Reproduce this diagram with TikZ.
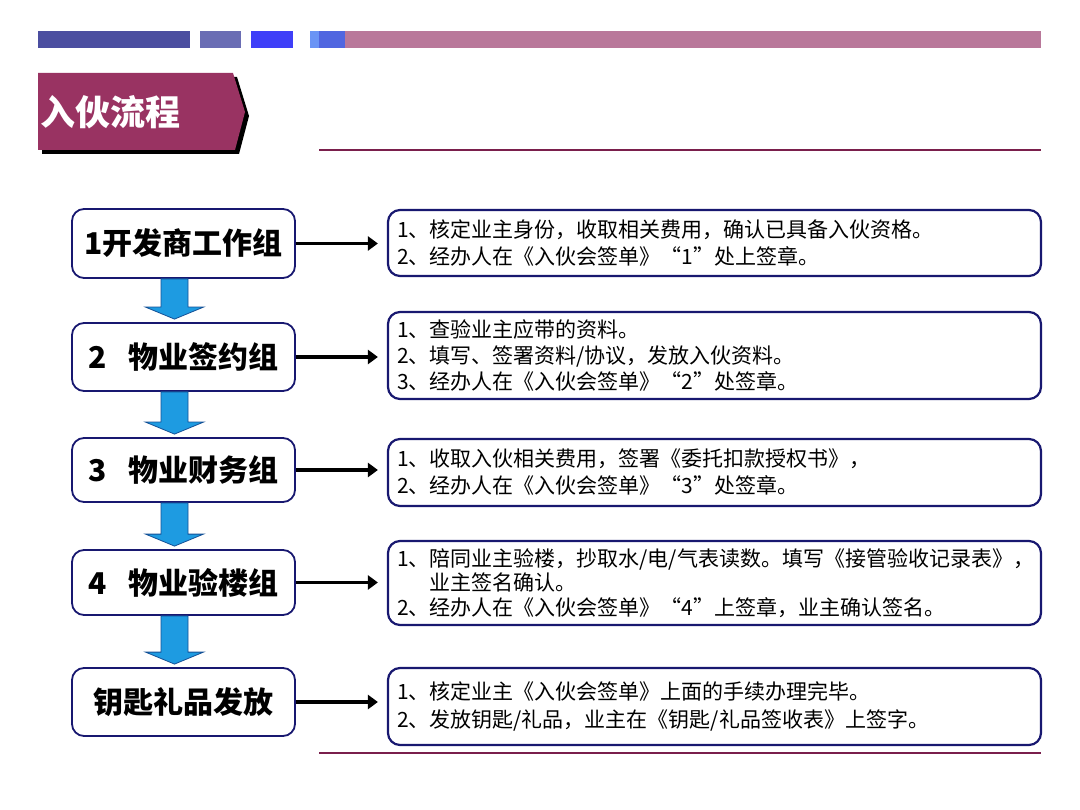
\documentclass[tikz,border=0pt]{standalone}
\usepackage{fontspec}
\setmainfont{Noto Sans CJK SC}
\usepackage{xcolor}
\usepackage{tikz}
\usetikzlibrary{arrows.meta, calc}

\definecolor{barA}{RGB}{75,78,160}
\definecolor{barB}{RGB}{106,109,180}
\definecolor{barC}{RGB}{63,63,248}
\definecolor{barD}{RGB}{106,148,245}
\definecolor{barE}{RGB}{80,102,224}
\definecolor{barF}{RGB}{185,120,154}
\definecolor{tabred}{RGB}{153,51,98}
\definecolor{rulered}{RGB}{122,31,76}
\definecolor{boxnavy}{RGB}{24,24,112}
\definecolor{flowblue}{RGB}{30,155,225}
\definecolor{flowedge}{RGB}{20,80,150}

\begin{document}
\begin{tikzpicture}[x=1pt, y=-1pt, >={Triangle[length=10pt, width=14pt]},
  group/.style={draw=boxnavy, line width=1.8pt, rounded corners=12pt, fill=white,
    minimum width=223pt, font=\fontsize{30}{34}\selectfont\bfseries},
  detail/.style={draw=boxnavy, line width=2.2pt, rounded corners=12pt,
    minimum width=653pt, text width=635pt, inner xsep=9pt, align=left,
    font=\fontsize{21}{27}\selectfont},
  link/.style={->, line width=3.5pt, shorten >=9pt},
  flow/.style={fill=flowblue, draw=flowedge, line width=0.8pt}]
  \useasboundingbox (0,0) rectangle (1080,810);
  % header bar
  \fill[barA] (38,31) rectangle (190,48);
  \fill[barB] (200,31) rectangle (241,48);
  \fill[barC] (251,31) rectangle (293,48);
  \fill[barD] (310,31) rectangle (319,48);
  \fill[barE] (319,31) rectangle (345,48);
  \fill[barF] (345,31) rectangle (1041,48);
  % title tab with shadow
  \fill[black] (42,77) -- (237,77) -- (249,116) -- (239,154) -- (42,154) -- cycle;
  \fill[tabred] (38,73) -- (233,73) -- (245,112) -- (235,150) -- (38,150) -- cycle;
  \node[font=\fontsize{35}{38}\selectfont\bfseries, white, anchor=west, inner sep=2pt] (title) at (38,112) {入伙流程};
  \draw[rulered, line width=2.5pt] (319,150) -- (1041,150);
  \draw[rulered, line width=2.5pt] (319,753) -- (1041,753);
  % ---------------- groups (left) ----------------
  \node[group, minimum height=69pt] (g1) at (183.5,243.5) {1开发商工作组};
  \node[group, minimum height=68pt] (g2) at (183.5,357) {2\hspace{0.75em}物业签约组};
  \node[group, minimum height=64pt] (g3) at (183.5,470) {3\hspace{0.75em}物业财务组};
  \node[group, minimum height=65pt] (g4) at (183.5,582.5) {4\hspace{0.75em}物业验楼组};
  \node[group, minimum height=68pt] (g5) at (183.5,702) {钥匙礼品发放};
  % ---------------- details (right) ----------------
  \node[detail, minimum height=66pt] (d1) at (714.5,243) {1、核定业主身份，收取相关费用，确认已具备入伙资格。\\
    2、经办人在《入伙会签单》“1”处上签章。};
  \node[detail, minimum height=87pt, font=\fontsize{21}{26}\selectfont] (d2) at (714.5,355.5) {1、查验业主应带的资料。\\
    2、填写、签署资料/协议，发放入伙资料。\\
    3、经办人在《入伙会签单》“2”处签章。};
  \node[detail, minimum height=67pt] (d3) at (714.5,472.5) {1、收取入伙相关费用，签署《委托扣款授权书》，\\
    2、经办人在《入伙会签单》“3”处签章。};
  \node[detail, minimum height=84pt, font=\fontsize{21}{24.5}\selectfont] (d4) at (714.5,583) {1、陪同业主验楼，抄取水/电/气表读数。填写《接管验收记录表》，\\
    \phantom{1、}业主签名确认。\\
    2、经办人在《入伙会签单》“4”上签章，业主确认签名。};
  \node[detail, minimum height=77pt, font=\fontsize{21}{28}\selectfont] (d5) at (714.5,706.5) {1、核定业主《入伙会签单》上面的手续办理完毕。\\
    2、发放钥匙/礼品，业主在《钥匙/礼品签收表》上签字。};
  % links
  \foreach \g/\d in {g1/d1,g2/d2,g3/d3,g4/d4,g5/d5}
    \draw[link] (\g.east) -- (\g.east -| \d.west);
  % blue flow arrows
  \foreach \a/\b in {g1/g2,g2/g3,g3/g4,g4/g5}
    \draw[flow] let \p1=(\a.south), \p2=(\b.north) in
      (\x1-22.5pt,\y1) -- (\x1-22.5pt,\y2+15pt) -- (\x1-38pt,\y2+15pt) -- (\x1-9pt,\y2+3pt)
      -- (\x1+20pt,\y2+15pt) -- (\x1+4.5pt,\y2+15pt) -- (\x1+4.5pt,\y1) -- cycle;
\end{tikzpicture}
\end{document}
